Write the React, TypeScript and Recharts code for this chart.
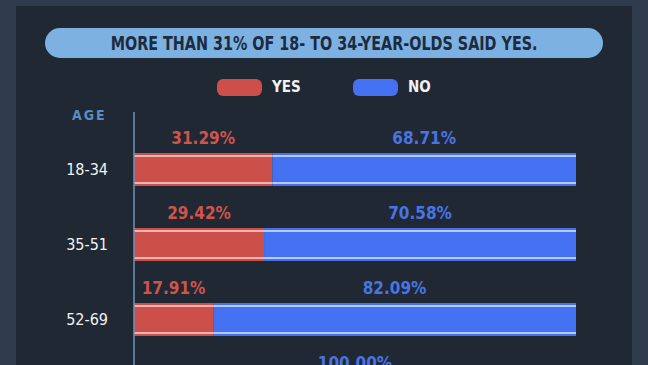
import { BarChart, Bar, XAxis, YAxis, LabelList } from 'recharts';

const ageGroups = ['18-34', '35-51', '52-69', '70+'];
const yesShare = [31.29, 29.42, 17.91, 0];
const noShare = [68.71, 70.58, 82.09, 100];

const data = ageGroups.map((age, i) => ({ age, yes: yesShare[i], no: noShare[i] }));

const RED = '#cd4f49';
const BLUE = '#4471f2';
const FONT = '"DejaVu Sans Condensed", "DejaVu Sans", sans-serif';

function StripedBar(props: any) {
  const { x, y, width, height, fill, lineColor } = props;
  if (!width || width <= 0) return null;
  return (
    <g>
      <rect x={x} y={y} width={width} height={height} fill={fill} />
      <line x1={x} x2={x + width} y1={y + 3} y2={y + 3} stroke={lineColor} strokeWidth={1.5} />
      <line x1={x} x2={x + width} y1={y + height - 3} y2={y + height - 3} stroke={lineColor} strokeWidth={1.5} />
    </g>
  );
}

function LegendBox() {
  const items = [
    { label: 'YES', color: RED },
    { label: 'NO', color: BLUE },
  ];
  return (
    <div style={{ position: 'absolute', left: 217, top: 78, display: 'flex', gap: 46, fontFamily: FONT }}>
      {items.map((it) => (
        <div key={it.label} style={{ display: 'flex', alignItems: 'center', gap: 10 }}>
          <div style={{ width: 45, height: 17, borderRadius: 6, background: it.color }} />
          <span style={{ color: '#f2f2f2', fontWeight: 700, fontSize: 15, width: 35 }}>{it.label}</span>
        </div>
      ))}
    </div>
  );
}

export default function App() {
  return (
    <div style={{ position: 'absolute', left: 0, top: 0, width: 648, height: 365, overflow: 'hidden', background: '#2e3c4d' }}>
      <div style={{ position: 'absolute', left: 16, top: 6, width: 616, height: 380, background: '#1f2833' }} />
      <div
        style={{
          position: 'absolute',
          left: 45,
          top: 28,
          width: 558,
          height: 30,
          borderRadius: 15,
          background: '#7db1e2',
          color: '#1c2b3d',
          fontFamily: FONT,
          fontWeight: 700,
          fontSize: 19,
          lineHeight: '30px',
          textAlign: 'center',
        }}
      >
        <span style={{ display: 'inline-block', transform: 'scaleX(0.84)', whiteSpace: 'nowrap' }}>
          MORE THAN 31% OF 18- TO 34-YEAR-OLDS SAID YES.
        </span>
      </div>
      <LegendBox />
      <div
        style={{
          position: 'absolute',
          left: 72,
          top: 107,
          color: '#5b8cc4',
          fontFamily: FONT,
          fontWeight: 700,
          fontSize: 14,
          letterSpacing: 2,
        }}
      >
        AGE
      </div>
      <div style={{ position: 'absolute', left: 0, top: 0 }}>
        <BarChart
          width={648}
          height={432}
          data={data}
          layout="vertical"
          margin={{ top: 112, right: 72, bottom: 0, left: 0 }}
          barSize={33}
        >
          <XAxis type="number" domain={[0, 100]} hide />
          <YAxis
            type="category"
            dataKey="age"
            width={134}
            padding={{ top: 20, bottom: 0 }}
            axisLine={{ stroke: '#6f93b8', strokeWidth: 1.5 }}
            tickLine={false}
            tickMargin={20}
            tick={{ fill: '#f2f2f2', fontSize: 16, fontFamily: FONT }}
          />
          <Bar
            dataKey="yes"
            stackId="a"
            fill={RED}
            isAnimationActive={false}
            shape={(p: any) => <StripedBar {...p} lineColor="#f3d9d7" />}
          >
            <LabelList
              dataKey="yes"
              position="top"
              offset={9}
              fill="#d0534c"
              style={{ fontFamily: FONT, fontWeight: 700, fontSize: 17 }}
              formatter={(v: any) => (v > 0 ? `${Number(v).toFixed(2)}%` : '')}
            />
          </Bar>
          <Bar
            dataKey="no"
            stackId="a"
            fill={BLUE}
            isAnimationActive={false}
            shape={(p: any) => <StripedBar {...p} lineColor="#dfe7ff" />}
          >
            <LabelList
              dataKey="no"
              position="top"
              offset={9}
              fill="#4a74e4"
              style={{ fontFamily: FONT, fontWeight: 700, fontSize: 17 }}
              formatter={(v: any) => `${Number(v).toFixed(2)}%`}
            />
          </Bar>
        </BarChart>
      </div>
    </div>
  );
}
